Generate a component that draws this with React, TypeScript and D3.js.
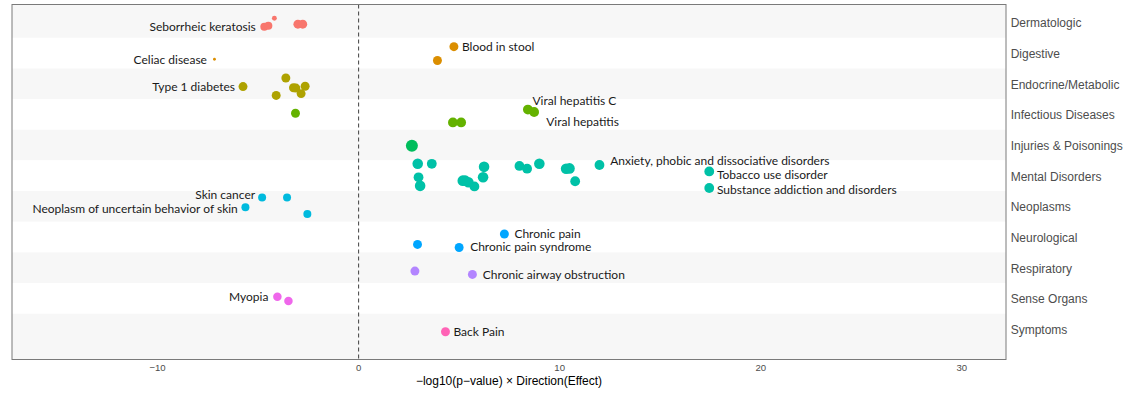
import React from "react";
import * as d3 from "d3";

// Disease categories, top to bottom
const categories = [
  "Dermatologic",
  "Digestive",
  "Endocrine/Metabolic",
  "Infectious Diseases",
  "Injuries & Poisonings",
  "Mental Disorders",
  "Neoplasms",
  "Neurological",
  "Respiratory",
  "Sense Organs",
  "Symptoms",
];

// ggplot-style hue palette, one colour per category
const categoryColors = [
  "#F8766D", "#DB8E00", "#AEA200", "#64B200", "#00BD5C", "#00C1A7",
  "#00BADE", "#00A6FF", "#B385FF", "#EF67EB", "#FF63B6",
];

// Per-phenotype results: category index, signed -log10(p), vertical jitter (in rows), weight, label
const pointCategory = [
  0, 0, 0, 0, 0,
  1, 1, 1,
  2, 2, 2, 2, 2, 2, 2,
  3, 3, 3, 3, 3,
  4,
  5, 5, 5, 5, 5, 5, 5, 5, 5, 5, 5, 5, 5, 5, 5, 5, 5, 5, 5,
  6, 6, 6, 6,
  7, 7, 7,
  8, 8,
  9, 9,
  10,
];
const pointValue = [
  -4.19, -4.69, -4.49, -3.02, -2.78,
  -7.17, 4.74, 3.92,
  -5.75, -3.62, -4.1, -3.24, -3.12, -2.66, -2.86,
  -3.14, 8.42, 8.73, 4.69, 5.1,
  2.65,
  2.94, 3.64, 2.98, 3.06, 5.18, 5.3, 5.46, 5.76, 6.24, 6.19, 8.0, 8.38, 8.99, 10.32, 10.49, 10.77, 11.98, 17.44, 17.44,
  -4.8, -3.56, -5.63, -2.55,
  7.25, 2.93, 5.0,
  2.8, 5.66,
  -4.04, -3.49,
  4.32,
];
const pointJitter = [
  -0.14, 0.14, 0.11, 0.055, 0.055,
  0.2, -0.21, 0.24,
  0.09, -0.19, 0.38, 0.13, 0.14, 0.08, 0.32,
  -0.04, -0.16, -0.08, 0.26, 0.26,
  0.02,
  -0.39, -0.39, 0.05, 0.33, 0.16, 0.16, 0.21, 0.35, -0.29, 0.05, -0.32, -0.23, -0.39, -0.23, -0.24, 0.18, -0.35, -0.14, 0.4,
  -0.29, -0.29, 0.03, 0.25,
  -0.1, 0.24, 0.34,
  0.11, 0.22,
  -0.05, 0.09,
  0.09,
];
const pointWeight = [
  6, 16, 16, 20, 20,
  2, 20, 20,
  20, 20, 20, 20, 20, 20, 20,
  20, 24, 24, 24, 24,
  36,
  28, 24, 24, 28, 28, 28, 28, 24, 28, 28, 24, 24, 28, 28, 28, 24, 24, 24, 24,
  16, 16, 16, 16,
  20, 20, 20,
  20, 20,
  18, 18,
  20,
];
const pointLabel = [
  "", "Seborrheic keratosis", "", "", "",
  "Celiac disease", "Blood in stool", "",
  "Type 1 diabetes", "", "", "", "", "", "",
  "", "Viral hepatitis C", "", "", "Viral hepatitis",
  "",
  "", "", "", "", "", "", "", "", "", "", "", "", "", "", "", "", "Anxiety, phobic and dissociative disorders", "Tobacco use disorder", "Substance addiction and disorders",
  "Skin cancer", "", "Neoplasm of uncertain behavior of skin", "",
  "Chronic pain", "", "Chronic pain syndrome",
  "", "Chronic airway obstruction",
  "Myopia", "",
  "Back Pain",
];

// x-axis ticks
const xTicks = [-10, 0, 10, 20, 30];

// Label placement relative to its point (px offsets; negative dx = label on the left)
const labelPlacement: Record<string, [number, number]> = {
  "Seborrheic keratosis": [-8.5, 0],
  "Celiac disease": [-7.5, 0],
  "Blood in stool": [8, 0],
  "Type 1 diabetes": [-8, 0],
  "Viral hepatitis C": [4.6, -9.3],
  "Viral hepatitis": [85, -1.3],
  "Anxiety, phobic and dissociative disorders": [10.7, -4.6],
  "Tobacco use disorder": [7.7, 2.8],
  "Substance addiction and disorders": [7.7, 1],
  "Skin cancer": [-7, -3.3],
  "Neoplasm of uncertain behavior of skin": [-7.6, 0.7],
  "Chronic pain": [10, 0],
  "Chronic pain syndrome": [11, -0.6],
  "Chronic airway obstruction": [10.4, 0],
  Myopia: [-9, -0.7],
  "Back Pain": [8, 0],
};

const W = 1147;
const H = 395;
const panel = { left: 12, right: 1006, top: 4.5, bottom: 359.5 };

export default function App() {
  const x = d3.scaleLinear().domain([-17.24, 32.2]).range([panel.left, panel.right]);
  const y = d3.scaleLinear().domain([-0.587, 10.995]).range([panel.top, panel.bottom]);
  const r = d3.scaleSqrt().domain([0, 36]).range([0, 6]);

  const points = pointValue.map((v, i) => ({
    cat: pointCategory[i],
    v,
    jit: pointJitter[i],
    w: pointWeight[i],
    label: pointLabel[i],
  }));

  const stripes = categories.map((c, i) => {
    const y0 = i === 0 ? panel.top : y(i - 0.5);
    const y1 = i === categories.length - 1 ? panel.bottom : y(i + 0.5);
    return { c, i, y0, y1 };
  });

  const labelFont = "Lato, 'Open Sans', sans-serif";
  const axisFont = "'Liberation Sans', Arial, Helvetica, sans-serif";

  return (
    <svg width={W} height={H} style={{ position: "absolute", left: 0, top: 0, background: "#fff" }}>
      {/* alternating row bands */}
      {stripes.map((s) => (
        <rect
          key={s.c}
          x={panel.left}
          y={s.y0}
          width={panel.right - panel.left}
          height={s.y1 - s.y0}
          fill={s.i % 2 === 0 ? "#f7f7f7" : "#ffffff"}
        />
      ))}

      {/* zero reference line */}
      <line
        x1={x(0)}
        x2={x(0)}
        y1={panel.top}
        y2={panel.bottom}
        stroke="#404040"
        strokeWidth={1}
        strokeDasharray="4,3"
      />

      {/* points */}
      {points.map((p, i) => (
        <circle
          key={i}
          cx={x(p.v)}
          cy={y(p.cat + p.jit)}
          r={r(p.w)}
          fill={categoryColors[p.cat]}
        />
      ))}

      {/* point labels */}
      {points
        .filter((p) => p.label)
        .map((p) => {
          const [dx, dy] = labelPlacement[p.label] || [8, 0];
          return (
            <text
              key={p.label}
              x={x(p.v) + dx}
              y={y(p.cat + p.jit) + dy}
              textAnchor={dx < 0 ? "end" : "start"}
              dominantBaseline="central"
              fontFamily={labelFont}
              fontSize={12}
              fill="#1a1a1a"
            >
              {p.label}
            </text>
          );
        })}

      {/* panel border */}
      <rect
        x={panel.left}
        y={panel.top}
        width={panel.right - panel.left}
        height={panel.bottom - panel.top}
        fill="none"
        stroke="#7a7a7a"
        strokeWidth={1}
      />

      {/* category labels on the right */}
      {categories.map((c, i) => (
        <text
          key={c}
          x={panel.right + 4.7}
          y={y(i) + 1}
          dominantBaseline="central"
          fontFamily={axisFont}
          fontSize={12}
          fill="#4d4d4d"
        >
          {c}
        </text>
      ))}

      {/* x tick labels */}
      {xTicks.map((t) => (
        <text
          key={t}
          x={x(t)}
          y={367.7}
          textAnchor="middle"
          dominantBaseline="central"
          fontFamily={axisFont}
          fontSize={9.6}
          fill="#4d4d4d"
        >
          {t < 0 ? "\u2212" + Math.abs(t) : String(t)}
        </text>
      ))}

      {/* x axis title */}
      <text
        x={(panel.left + panel.right) / 2}
        y={380.5}
        textAnchor="middle"
        dominantBaseline="central"
        fontFamily={axisFont}
        fontSize={12}
        fill="#000"
      >
        {"\u2212log10(p\u2212value) \u00d7 Direction(Effect)"}
      </text>
    </svg>
  );
}
